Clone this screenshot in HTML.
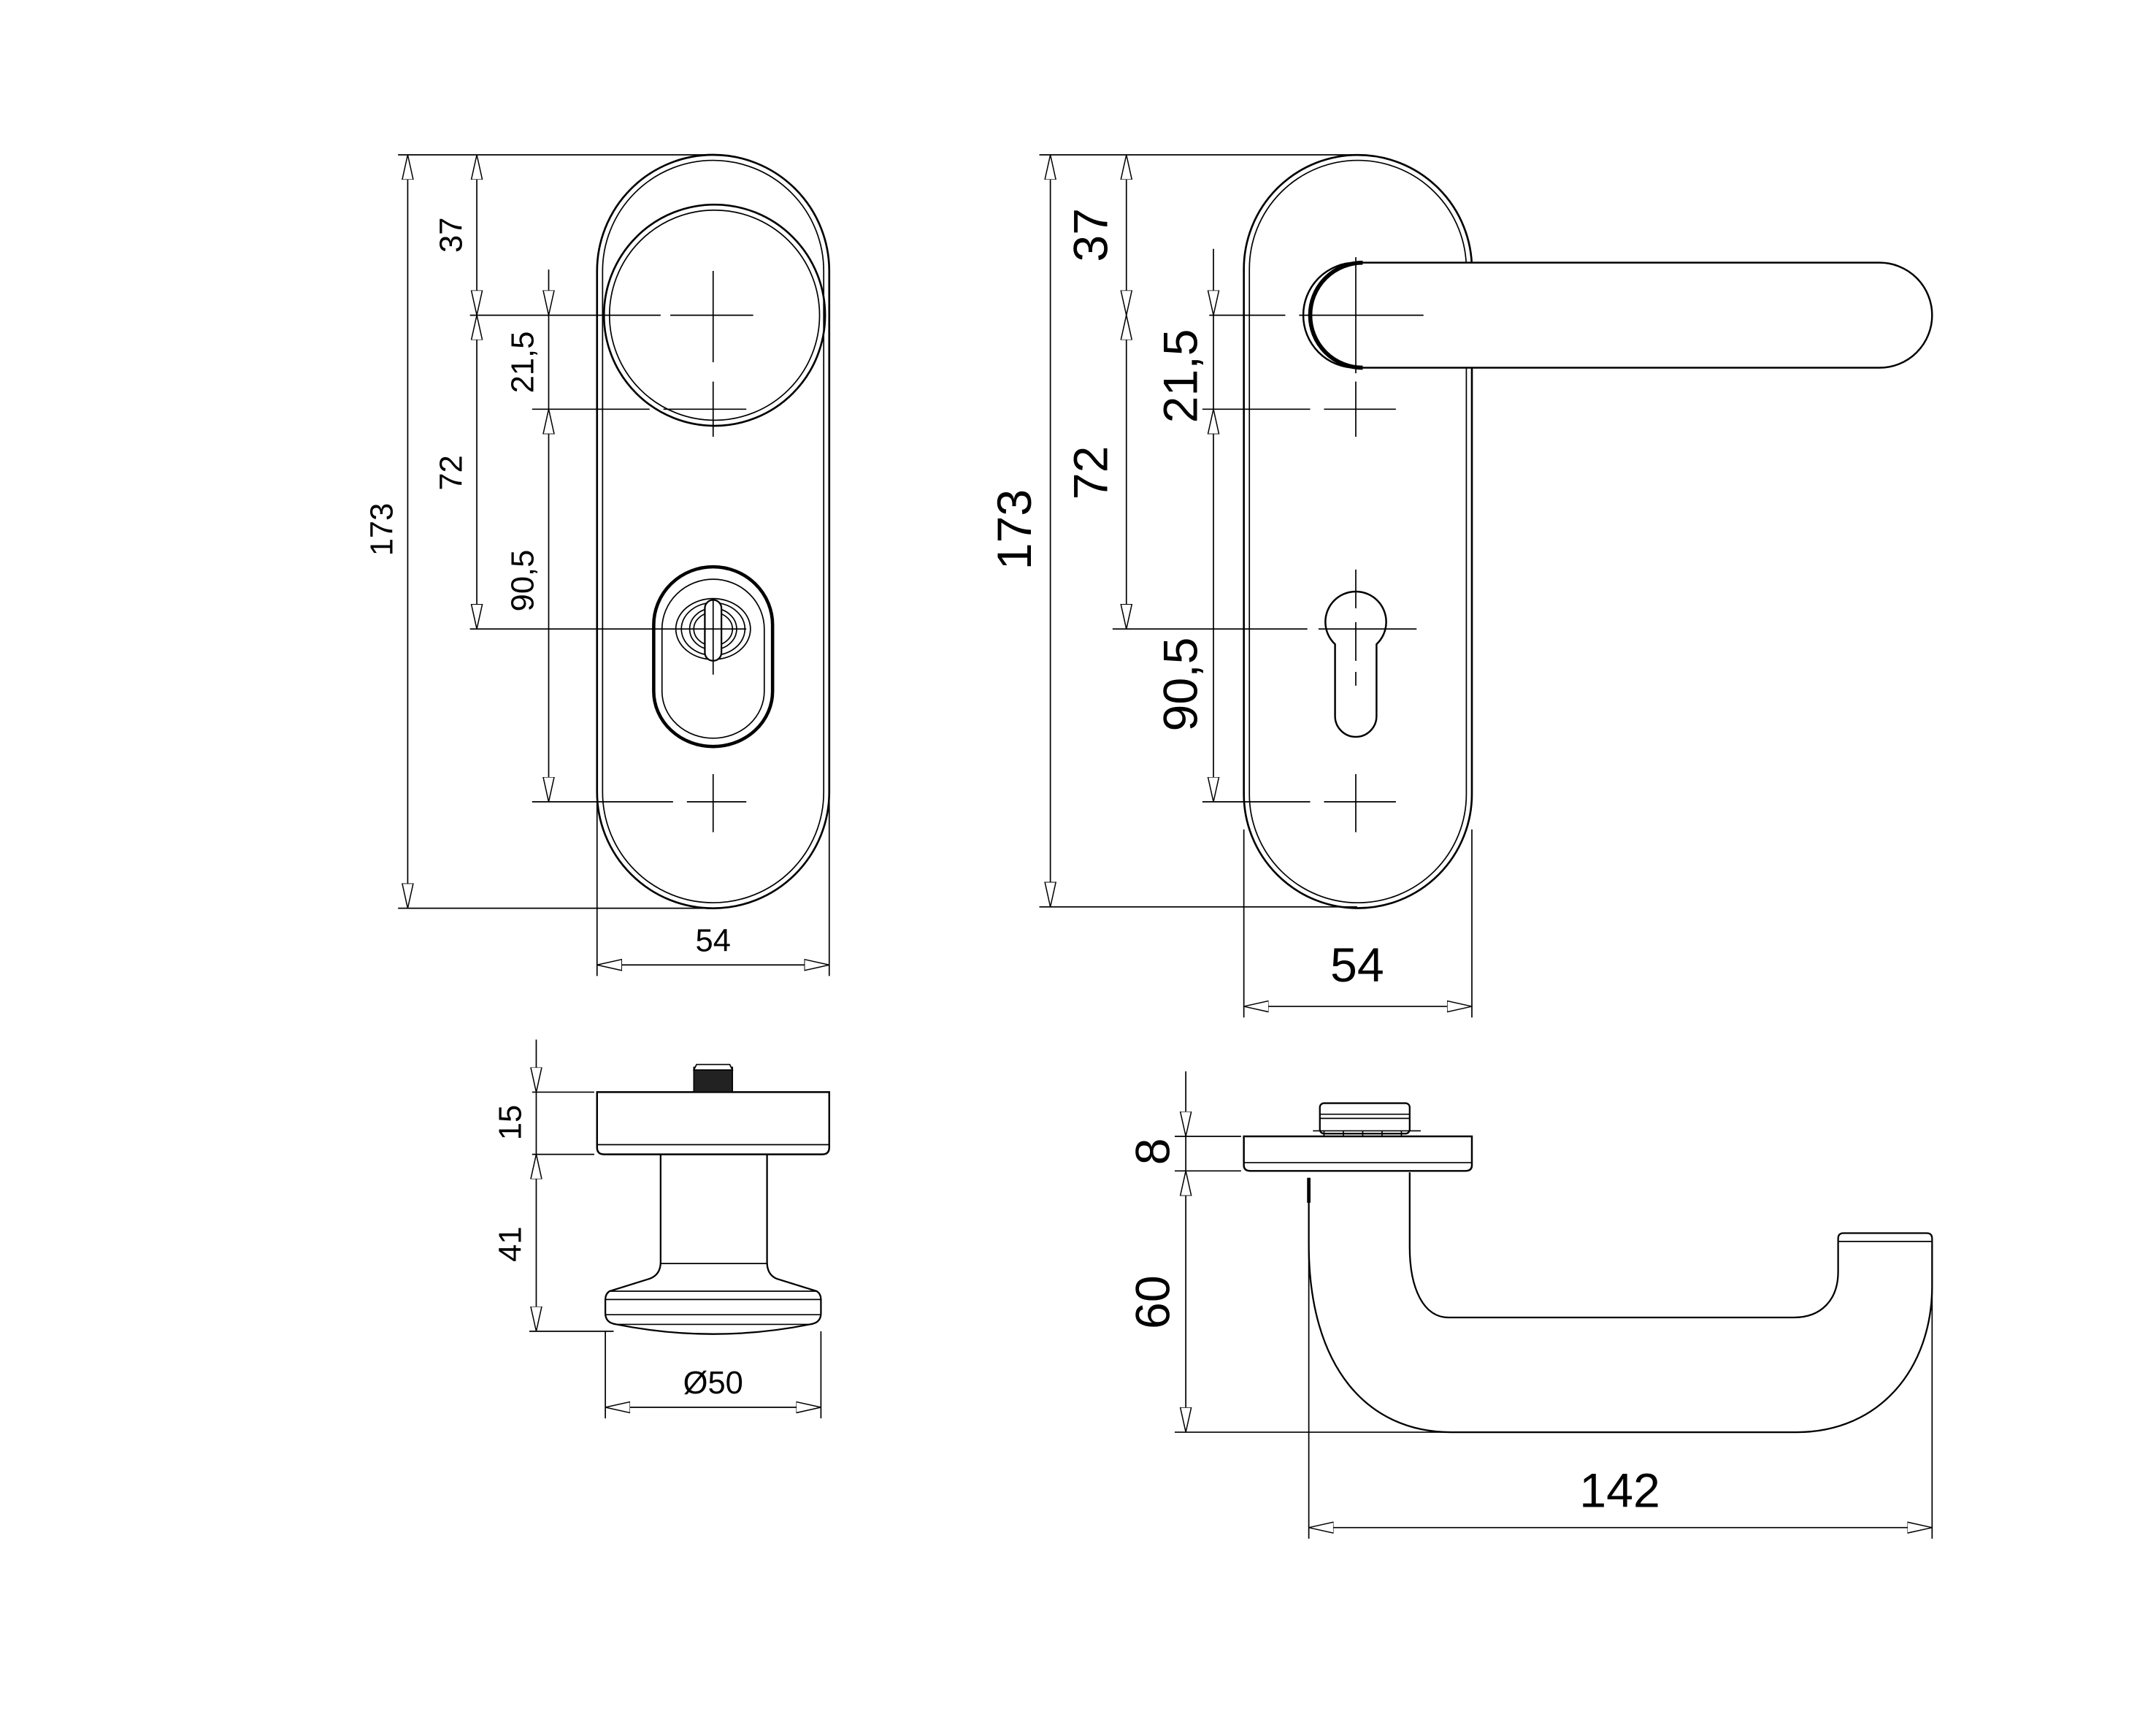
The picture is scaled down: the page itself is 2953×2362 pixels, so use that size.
<!DOCTYPE html>
<html><head><meta charset="utf-8"><style>
html,body{margin:0;padding:0;background:#fff}
svg{display:block}
text{font-family:"Liberation Sans",Arial,sans-serif;fill:#000}
</style></head><body>
<svg width="2953" height="2362" viewBox="0 0 1560 1247.8" xmlns="http://www.w3.org/2000/svg">
<defs>
<marker id="a" markerUnits="userSpaceOnUse" markerWidth="22" markerHeight="12" refX="18" refY="6" orient="auto-start-reverse" viewBox="0 0 22 12">
<path d="M0,2 L18,6 L0,10 Z" fill="#fff" stroke="#000" stroke-width="0.8"/>
</marker>
</defs>
<rect width="1560" height="1248" fill="#fff"/>
<g fill="none" stroke="#000" stroke-width="0.9">

<!-- LEFT FRONT VIEW -->
<path d="M432,196 A84,84 0 0 1 600,196 L600,573 A84,84 0 0 1 432,573 Z" stroke-width="1.4"/>
<path d="M436,196 A80,80 0 0 1 596,196 L596,573 A80,80 0 0 1 436,573 Z"/>
<circle cx="517" cy="228" r="80" stroke-width="1.4"/>
<circle cx="517" cy="228" r="76"/>
<!-- escutcheon -->
<path d="M473,452 A43,42 0 0 1 559,452 L559,500 A43,40 0 0 1 473,500 Z" stroke-width="2.4"/>
<path d="M479,455 A37,36 0 0 1 553,455 L553,500 A37,34 0 0 1 479,500 Z"/>
<ellipse cx="516" cy="455" rx="27" ry="22"/>
<ellipse cx="516" cy="455" rx="23" ry="19"/>
<ellipse cx="516" cy="455" rx="17" ry="15"/>
<ellipse cx="516" cy="455" rx="14" ry="12"/>
<rect x="510" y="434" width="12" height="44" rx="6" fill="#fff" stroke-width="1.2"/>
<!-- centre lines -->
<path d="M340,228 L478,228 M485,228 L545,228 M516,196 L516,262"/>
<path d="M385,296 L470,296 M480,296 L540,296 M516,276 L516,316"/>
<path d="M340,455 L540,455 M516,433 L516,488"/>
<path d="M385,580 L487,580 M497,580 L540,580 M516,560 L516,602"/>
<!-- ext lines -->
<path d="M288,112 L516,112 M288,657 L516,657"/>
<path d="M432,580 L432,706 M600,580 L600,706"/>
<!-- dims -->
<line x1="295" y1="112" x2="295" y2="657" marker-start="url(#a)" marker-end="url(#a)"/>
<line x1="345" y1="112" x2="345" y2="228" marker-start="url(#a)" marker-end="url(#a)"/>
<line x1="345" y1="228" x2="345" y2="455" marker-start="url(#a)" marker-end="url(#a)"/>
<line x1="397" y1="195" x2="397" y2="228" marker-end="url(#a)"/>
<line x1="397" y1="296" x2="397" y2="580" marker-start="url(#a)" marker-end="url(#a)"/>
<line x1="397" y1="228" x2="397" y2="296"/>
<line x1="432" y1="698" x2="600" y2="698" marker-start="url(#a)" marker-end="url(#a)"/>

<!-- RIGHT FRONT VIEW -->
<path d="M900,194.5 A82.5,82.5 0 0 1 1065,194.5 L1065,574.5 A82.5,82.5 0 0 1 900,574.5 Z" stroke-width="1.4"/>
<path d="M904,194.5 A78.5,78.5 0 0 1 1061,194.5 L1061,574.5 A78.5,78.5 0 0 1 904,574.5 Z"/>
<path d="M981,190 L1360,190 A38,38 0 0 1 1360,266 L981,266 A38,38 0 0 1 981,190 Z" fill="#fff" stroke-width="1.3"/>
<path d="M986,190 A38,38 0 0 0 986,266" stroke-width="3"/>
<path d="M966,466 A22,22 0 1 1 996,466 L996,518 A15,15 0 0 1 966,518 Z" stroke-width="1.3"/>
<path d="M875,228 L930,228 M940,228 L1030,228 M981,186 L981,270"/>
<path d="M870,296 L948,296 M958,296 L1010,296 M981,276 L981,316"/>
<path d="M805,455 L946,455 M954,455 L1025,455 M981,412 L981,440 M981,450 L981,478 M981,486 L981,496"/>
<path d="M870,580 L948,580 M958,580 L1010,580 M981,560 L981,602"/>
<path d="M752,112 L982,112 M752,656 L982,656"/>
<path d="M900,600 L900,736 M1065,600 L1065,736"/>
<line x1="760" y1="112" x2="760" y2="656" marker-start="url(#a)" marker-end="url(#a)"/>
<line x1="815" y1="112" x2="815" y2="228" marker-start="url(#a)" marker-end="url(#a)"/>
<line x1="815" y1="228" x2="815" y2="455" marker-start="url(#a)" marker-end="url(#a)"/>
<line x1="878" y1="180" x2="878" y2="228" marker-end="url(#a)"/>
<line x1="878" y1="228" x2="878" y2="296"/>
<line x1="878" y1="296" x2="878" y2="580" marker-start="url(#a)" marker-end="url(#a)"/>
<line x1="900" y1="728" x2="1065" y2="728" marker-start="url(#a)" marker-end="url(#a)"/>

<!-- LEFT SIDE VIEW (knob) -->
<path d="M432,790 L600,790 L600,830 Q600,835 595,835 L437,835 Q432,835 432,830 Z" stroke-width="1.3"/>
<path d="M432,828 L600,828"/>
<rect x="502" y="772" width="28" height="18" fill="#222" stroke-width="0.8"/>
<path d="M504,770 L528,770 L530,774 L502,774 Z" fill="#fff"/>
<path d="M478,835 L478,913 Q478,922 470,925 L441,934 Q438,936 438,940 L438,950 Q438,957 446,958 Q516,972 586,958 Q594,957 594,950 L594,940 Q594,936 591,934 L562,925 Q555,922 555,913 L555,835" stroke-width="1.2"/>
<path d="M478,914 L555,914 M441,934 L591,934 M438,940 L594,940 M438,951 L594,951 M446,958 L586,958"/>
<path d="M385,790 L430,790 M385,835 L430,835 M383,963 L444,963"/>
<path d="M438,963 L438,1026 M594,963 L594,1026"/>
<line x1="388" y1="752" x2="388" y2="790" marker-end="url(#a)"/>
<line x1="388" y1="790" x2="388" y2="835"/>
<line x1="388" y1="835" x2="388" y2="963" marker-start="url(#a)" marker-end="url(#a)"/>
<line x1="438" y1="1018" x2="594" y2="1018" marker-start="url(#a)" marker-end="url(#a)"/>

<!-- RIGHT SIDE VIEW (lever) -->
<path d="M900,822 L1065,822 L1065,843 Q1065,847 1060,847 L905,847 Q900,847 900,843 Z" stroke-width="1.3"/>
<path d="M900,841 L1065,841"/>
<rect x="955" y="798" width="65" height="22" rx="3" stroke-width="1.2"/>
<path d="M955,806 L1020,806 M955,809 L1020,809"/>
<path d="M950,818 L1028,818 M958,818 L958,822 M972,818 L972,822 M986,818 L986,822 M1000,818 L1000,822 M1014,818 L1014,822"/>
<path d="M947,852 L947,900 C947,990 990,1036 1050,1036 L1300,1036 C1360,1036 1398,990 1398,930 L1398,896 Q1398,892 1394,892 L1334,892 Q1330,892 1330,896 L1330,920 C1330,940 1318,953 1298,953 L1048,953 C1030,953 1020,932 1020,902 L1020,848" stroke-width="1.2"/>
<path d="M1330,898 L1398,898"/>
<path d="M947,852 L947,870" stroke-width="2.5"/>
<path d="M850,822 L898,822 M850,847 L898,847 M850,1036 L1050,1036"/>
<path d="M947,860 L947,1113 M1398,900 L1398,1113"/>
<line x1="858" y1="775" x2="858" y2="822" marker-end="url(#a)"/>
<line x1="858" y1="822" x2="858" y2="847"/>
<line x1="858" y1="847" x2="858" y2="1036" marker-start="url(#a)" marker-end="url(#a)"/>
<line x1="947" y1="1105" x2="1398" y2="1105" marker-start="url(#a)" marker-end="url(#a)"/>
</g>

<!-- LABELS -->
<g font-size="23" text-anchor="middle">
<text transform="translate(284,383) rotate(-90)">173</text>
<text transform="translate(334,170) rotate(-90)">37</text>
<text transform="translate(334,342) rotate(-90)">72</text>
<text transform="translate(386,262) rotate(-90)">21,5</text>
<text transform="translate(386,420) rotate(-90)">90,5</text>
<text x="516" y="688">54</text>
<text transform="translate(377,812) rotate(-90)">15</text>
<text transform="translate(377,900) rotate(-90)">41</text>
<text x="516" y="1008">Ø50</text>
</g>
<g font-size="35" text-anchor="middle">
<text transform="translate(746,383) rotate(-90)">173</text>
<text transform="translate(801,170) rotate(-90)">37</text>
<text transform="translate(801,342) rotate(-90)">72</text>
<text transform="translate(866,272) rotate(-90)">21,5</text>
<text transform="translate(866,495) rotate(-90)">90,5</text>
<text x="982" y="710">54</text>
<text transform="translate(846,833) rotate(-90)">8</text>
<text transform="translate(846,942) rotate(-90)">60</text>
<text x="1172" y="1090">142</text>
</g>
</svg>
</body></html>
